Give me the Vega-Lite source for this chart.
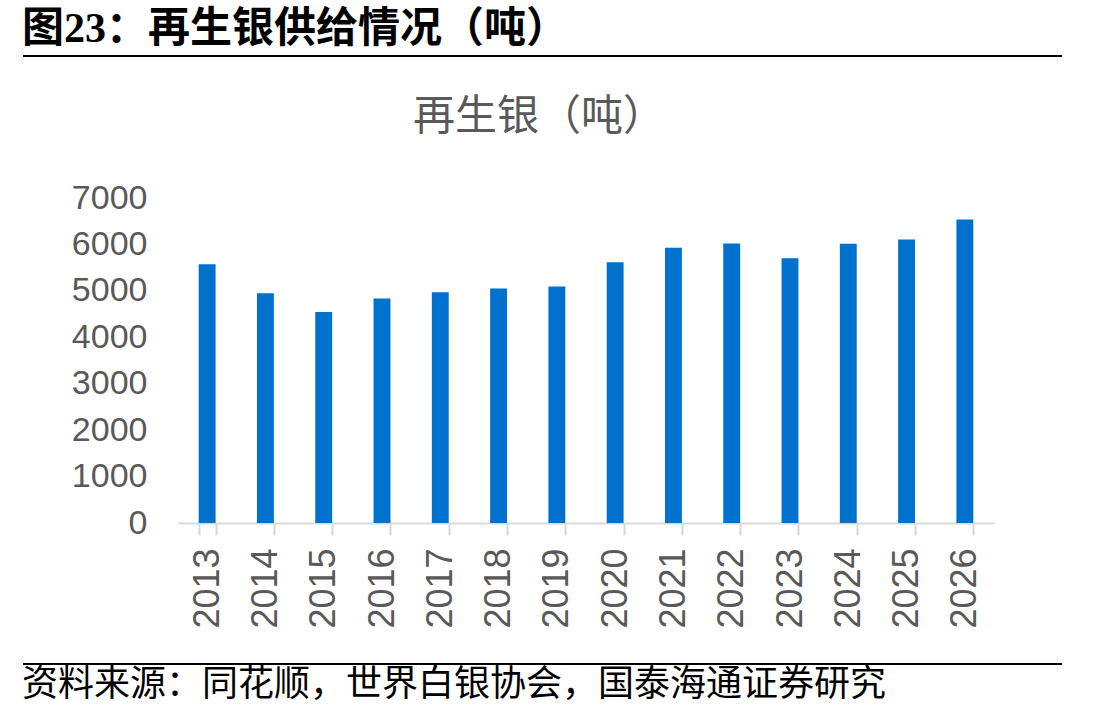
{
  "$schema": "https://vega.github.io/schema/vega-lite/v6.json",
  "background": "white",
  "padding": {"left": 22, "top": 8, "right": 40, "bottom": 16},
  "spacing": 34,
  "config": {
    "view": {"stroke": null},
    "font": "Liberation Sans, Noto Sans CJK SC"
  },
  "vconcat": [
    {
      "width": 884,
      "height": 6,
      "title": {
        "text": "图23：再生银供给情况（吨）",
        "anchor": "start",
        "frame": "bounds",
        "font": "Liberation Serif, Noto Sans CJK SC",
        "fontSize": 42,
        "fontWeight": "bold",
        "color": "#000000",
        "offset": 4
      },
      "data": {"values": [{}]},
      "mark": {"type": "rule", "color": "#000000", "strokeWidth": 2},
      "encoding": {
        "y": {
          "datum": 1,
          "type": "quantitative",
          "scale": {"domain": [0, 1]},
          "axis": {
            "title": null,
            "values": [1],
            "labels": false,
            "domain": false,
            "grid": false,
            "ticks": true,
            "tickSize": 155,
            "tickWidth": 2,
            "tickColor": "#000000",
            "translate": 0
          }
        }
      }
    },
    {
      "width": 816,
      "height": 325,
      "title": {
        "text": "再生银（吨）",
        "anchor": "middle",
        "frame": "group",
        "dx": -47,
        "font": "Noto Sans CJK SC",
        "fontSize": 42,
        "fontWeight": "normal",
        "color": "#595959",
        "offset": 42
      },
      "data": {
        "values": [
          {"year": "2013", "supply": 5571},
          {"year": "2014", "supply": 4950},
          {"year": "2015", "supply": 4543},
          {"year": "2016", "supply": 4836},
          {"year": "2017", "supply": 4971},
          {"year": "2018", "supply": 5050},
          {"year": "2019", "supply": 5093},
          {"year": "2020", "supply": 5614},
          {"year": "2021", "supply": 5929},
          {"year": "2022", "supply": 6021},
          {"year": "2023", "supply": 5700},
          {"year": "2024", "supply": 6014},
          {"year": "2025", "supply": 6107},
          {"year": "2026", "supply": 6535}
        ]
      },
      "mark": {"type": "bar", "color": "#0072CE"},
      "encoding": {
        "x": {
          "field": "year",
          "type": "nominal",
          "sort": null,
          "scale": {"paddingInner": 0.71, "paddingOuter": 0.355},
          "axis": {
            "title": null,
            "labelAngle": -90,
            "labelFont": "Liberation Sans",
            "labelFontSize": 36,
            "labelColor": "#595959",
            "labelPadding": 13,
            "tickBand": "extent",
            "tickSize": 12,
            "tickWidth": 2,
            "tickColor": "#D9D9D9",
            "domainColor": "#D9D9D9",
            "domainWidth": 2,
            "grid": false
          }
        },
        "y": {
          "field": "supply",
          "type": "quantitative",
          "scale": {"domain": [0, 7000]},
          "axis": {
            "title": null,
            "values": [0, 1000, 2000, 3000, 4000, 5000, 6000, 7000],
            "format": "d",
            "grid": false,
            "domain": false,
            "ticks": false,
            "tickSize": 0,
            "labelFont": "Liberation Sans",
            "labelFontSize": 34,
            "labelColor": "#595959",
            "labelPadding": 31,
            "minExtent": 155
          }
        }
      }
    },
    {
      "width": 884,
      "height": 1,
      "title": {
        "text": "资料来源：同花顺，世界白银协会，国泰海通证券研究",
        "orient": "bottom",
        "anchor": "start",
        "frame": "bounds",
        "font": "Noto Sans CJK SC",
        "fontSize": 36,
        "fontWeight": "normal",
        "color": "#000000",
        "offset": 3
      },
      "data": {"values": [{}]},
      "mark": {"type": "rule", "color": "#000000", "strokeWidth": 2},
      "encoding": {
        "y": {
          "datum": 1,
          "type": "quantitative",
          "scale": {"domain": [0, 1]},
          "axis": {
            "title": null,
            "values": [1],
            "labels": false,
            "domain": false,
            "grid": false,
            "ticks": true,
            "tickSize": 155,
            "tickWidth": 2,
            "tickColor": "#000000",
            "translate": 0
          }
        }
      }
    }
  ]
}
